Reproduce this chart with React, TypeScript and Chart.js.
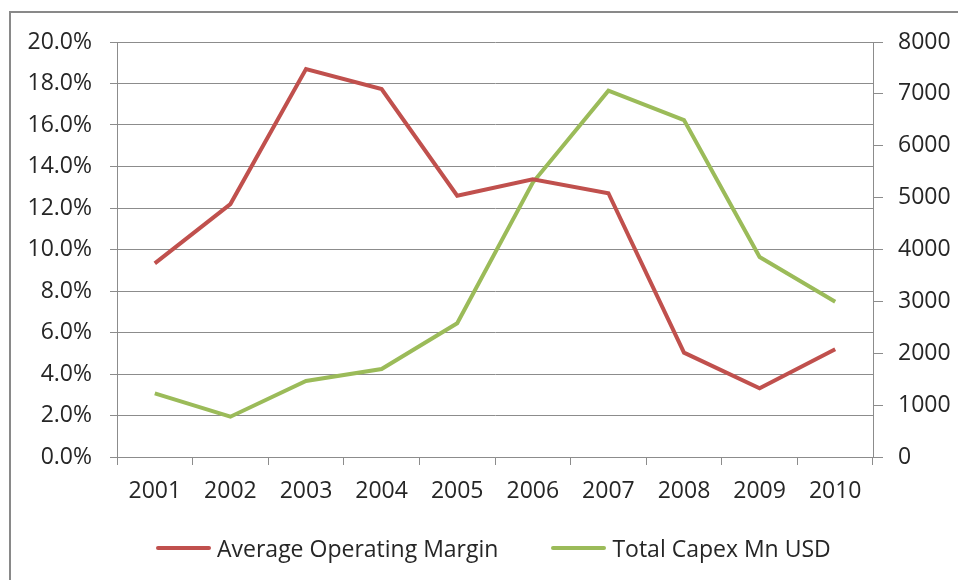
import React, { useEffect, useRef } from "react";
import { Chart, registerables } from "chart.js";

Chart.register(...registerables);

const years = ["2001", "2002", "2003", "2004", "2005", "2006", "2007", "2008", "2009", "2010"];
const operatingMargin = [9.33, 12.19, 18.7, 17.73, 12.59, 13.38, 12.71, 5.03, 3.31, 5.19];
const totalCapex = [1228, 777, 1465, 1696, 2577, 5290, 7061, 6496, 3855, 2994];
const marginLabel = "Average Operating Margin";
const capexLabel = "Total Capex Mn USD";

const RED = "#C0504D";
const GREEN = "#9BBB59";
const GRID = "#8c8c8c";
const TEXT = "#262626";
const FONT = "'Open Sans', Lato, sans-serif";

export default function App() {
  const ref = useRef<HTMLCanvasElement | null>(null);

  useEffect(() => {
    if (!ref.current) return;
    const font = { family: FONT, size: 23 };
    const chart = new Chart(ref.current, {
      type: "line",
      data: {
        labels: years,
        datasets: [
          {
            label: marginLabel,
            data: operatingMargin,
            borderColor: RED,
            backgroundColor: RED,
            borderWidth: 4,
            pointRadius: 0,
            tension: 0,
            yAxisID: "y",
          },
          {
            label: capexLabel,
            data: totalCapex,
            borderColor: GREEN,
            backgroundColor: GREEN,
            borderWidth: 4,
            pointRadius: 0,
            tension: 0,
            yAxisID: "y1",
          },
        ],
      },
      options: {
        animation: false,
        responsive: false,
        maintainAspectRatio: false,
        layout: { padding: { left: 0, right: 0, top: 42, bottom: 63 } },
        plugins: { legend: { display: false }, tooltip: { enabled: false } },
        scales: {
          x: {
            offset: true,
            grid: { display: true, offset: true, drawOnChartArea: false, tickLength: 8, color: GRID },
            border: { display: true, color: GRID },
            ticks: { font, color: TEXT, padding: 13, maxRotation: 0 },
            afterFit: (s: any) => { s.height = 60; },
          },
          y: {
            position: "left",
            min: 0,
            max: 20,
            ticks: {
              stepSize: 2,
              font,
              color: TEXT,
              padding: 18,
              callback: (v: any) => Number(v).toFixed(1) + "%",
            },
            grid: { color: GRID, tickLength: 7 },
            border: { display: true, color: GRID },
            afterFit: (s: any) => { s.width = 117; },
          },
          y1: {
            position: "right",
            min: 0,
            max: 8000,
            ticks: {
              stepSize: 1000,
              font,
              color: TEXT,
              padding: 15,
              callback: (v: any) => String(v),
            },
            grid: { drawOnChartArea: false, tickLength: 10, color: GRID },
            border: { display: true, color: GRID },
            afterFit: (s: any) => { s.width = 85; },
          },
        },
      },
    });
    return () => chart.destroy();
  }, []);

  const item = (color: string, text: string, gap: number) => (
    <div style={{ display: "flex", alignItems: "center", marginRight: gap }}>
      <span style={{ display: "inline-block", width: 55, height: 4, borderRadius: 2, background: color, marginRight: 6 }} />
      <span>{text}</span>
    </div>
  );

  return (
    <div style={{ position: "absolute", left: 0, top: 0, width: 958, height: 580, overflow: "hidden", background: "#fff" }}>
      <div style={{ position: "absolute", left: 9, top: 11, width: 970, height: 600, border: "2px solid #898989", boxSizing: "border-box" }} />
      <canvas ref={ref} width={958} height={580} style={{ position: "absolute", left: 0, top: 0 }} />
      <div
        style={{
          position: "absolute",
          left: 156,
          top: 548 - 16,
          height: 32,
          display: "flex",
          alignItems: "center",
          fontFamily: FONT,
          fontSize: 23,
          color: TEXT,
          whiteSpace: "nowrap",
        }}
      >
        {item(RED, marginLabel, 53)}
        {item(GREEN, capexLabel, 0)}
      </div>
    </div>
  );
}
